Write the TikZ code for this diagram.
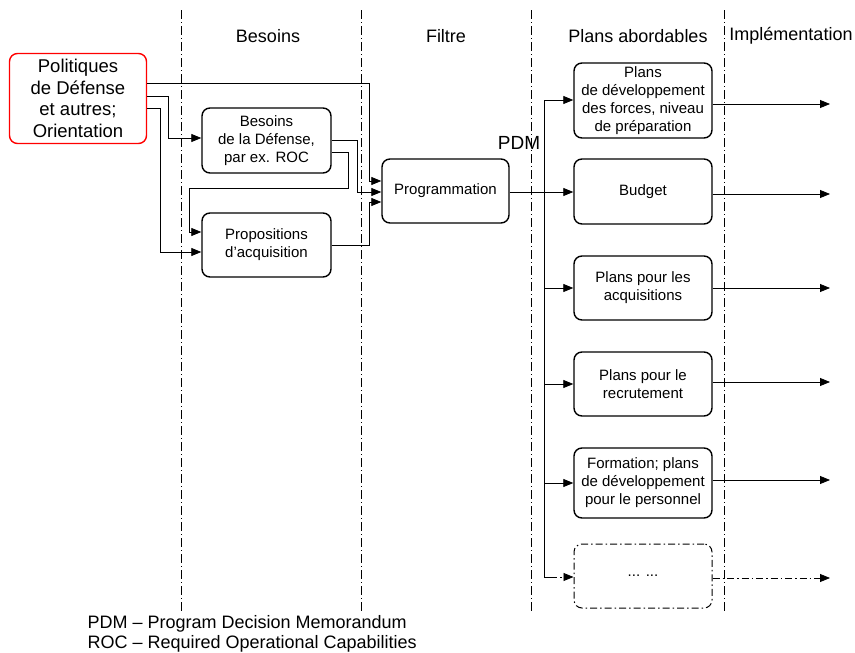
\documentclass[tikz,border=0pt]{standalone}
\usepackage{fontspec}
\setmainfont{Liberation Sans}
\usetikzlibrary{arrows.meta}
\begin{document}
\begin{tikzpicture}[x=1pt,y=-1pt,
  box/.style={draw, rounded corners=8pt, line width=1.4pt, align=center, inner sep=0pt,
    font=\fontsize{15}{18}\selectfont},
  conn/.style={line width=0.8pt, -{Triangle[length=10pt,width=8pt]}},
  plain/.style={line width=0.8pt},
  sep/.style={line width=0.5pt, dash pattern=on 9pt off 3pt on 1pt off 3pt},
  hdr/.style={font=\fontsize{18}{21}\selectfont},
  dd/.style={dash pattern=on 7pt off 3pt on 1.5pt off 3pt}]
\useasboundingbox (0,0) rectangle (855,653);
% separators
\foreach \x/\n in {181/s1,361/s2,531/s3,724/s4}{
  \coordinate (\n t) at (\x,10); \coordinate (\n b) at (\x,612);
  \draw[sep] (\n t) -- (\n b);}
% headers
\node[hdr] (h1) at (268,36) {Besoins};
\node[hdr] (h2) at (446,36) {Filtre};
\node[hdr] (h3) at (638,36) {Plans abordables};
\node[hdr] (h4) at (791,36) {Implémentation};
% nodes
\node[box, draw=red, minimum width=137pt, minimum height=90pt, font=\fontsize{18.5}{21.7}\selectfont] (pol) at (78,98.5) {Politiques\\de Défense\\et autres;\\Orientation};
\node[box, minimum width=129pt, minimum height=65pt] (bes) at (266.5,140.5) {Besoins\\de la Défense,\\par ex. ROC};
\node[box, minimum width=129pt, minimum height=64pt] (prop) at (266.5,245) {Propositions\\d’acquisition};
\node[box, minimum width=127pt, minimum height=64pt] (prog) at (445.5,191) {Programmation};
\node[box, minimum width=138pt, minimum height=75pt] (plans) at (643,100.5) {Plans\\de développement\\des forces, niveau\\de préparation};
\node[box, minimum width=138pt, minimum height=65pt] (budget) at (643,191.5) {Budget};
\node[box, minimum width=138pt, minimum height=64pt] (acq) at (643,288) {Plans pour les\\acquisitions};
\node[box, minimum width=138pt, minimum height=64pt] (rec) at (643,384) {Plans pour le\\recrutement};
\node[box, minimum width=138pt, minimum height=70pt] (form) at (643,483) {Formation; plans\\de développement\\pour le personnel};
\node[box, dd, line width=1pt, minimum width=138pt, minimum height=64pt] (dots) at (643,576) {... ...};
\node[font=\fontsize{19}{22}\selectfont] (pdm) at (519,143) {PDM};
% connectors from Politiques
\draw[conn] (pol.east |- 0,83) -| (369,181) -- (prog.west |- 0,181);
\draw[conn] (pol.east |- 0,96) -| (168,138) -- (bes.west |- 0,138);
\draw[conn] (pol.east |- 0,108) -| (160,252) -- (prop.west |- 0,252);
% from Besoins
\draw[conn] (bes.east |- 0,140) -| (357,192) -- (prog.west |- 0,192);
\draw[conn] (bes.east |- 0,152) -| (348,188) -| (189,232) -- (prop.west |- 0,232);
% from Propositions
\draw[conn] (prop.east |- 0,245) -| (369,202) -- (prog.west |- 0,202);
% PDM distribution
\draw[conn] (prog.east |- 0,192) -- (budget.west |- 0,192);
\coordinate (bus) at (544,100);
\draw[plain] (bus) -- (544,577);
\draw[conn] (bus) -- (plans.west |- bus);
\draw[conn] (544,288) -- (acq.west |- 0,288);
\draw[conn] (544,384) -- (rec.west |- 0,384);
\draw[conn] (544,483) -- (form.west |- 0,483);
\draw[plain] (544,577) -- (550,577);
\draw[conn, dd] (550,577) -- (dots.west |- 0,577);
% outputs
\coordinate (o1) at (830,104); \coordinate (o2) at (830,194);
\coordinate (o3) at (830,288); \coordinate (o4) at (830,382);
\coordinate (o5) at (830,480); \coordinate (o6) at (830,578);
\draw[conn] (plans.east |- o1) -- (o1);
\draw[conn] (budget.east |- o2) -- (o2);
\draw[conn] (acq.east |- o3) -- (o3);
\draw[conn] (rec.east |- o4) -- (o4);
\draw[conn] (form.east |- o5) -- (o5);
\draw[conn, dd] (dots.east |- o6) -- (o6);
% legend
\node[anchor=west, font=\fontsize{18}{20}\selectfont] (l1) at (84,624) {PDM -- Program Decision Memorandum};
\node[anchor=west, font=\fontsize{18}{20}\selectfont] (l2) at (84,644) {ROC -- Required Operational Capabilities};
\end{tikzpicture}
\end{document}
